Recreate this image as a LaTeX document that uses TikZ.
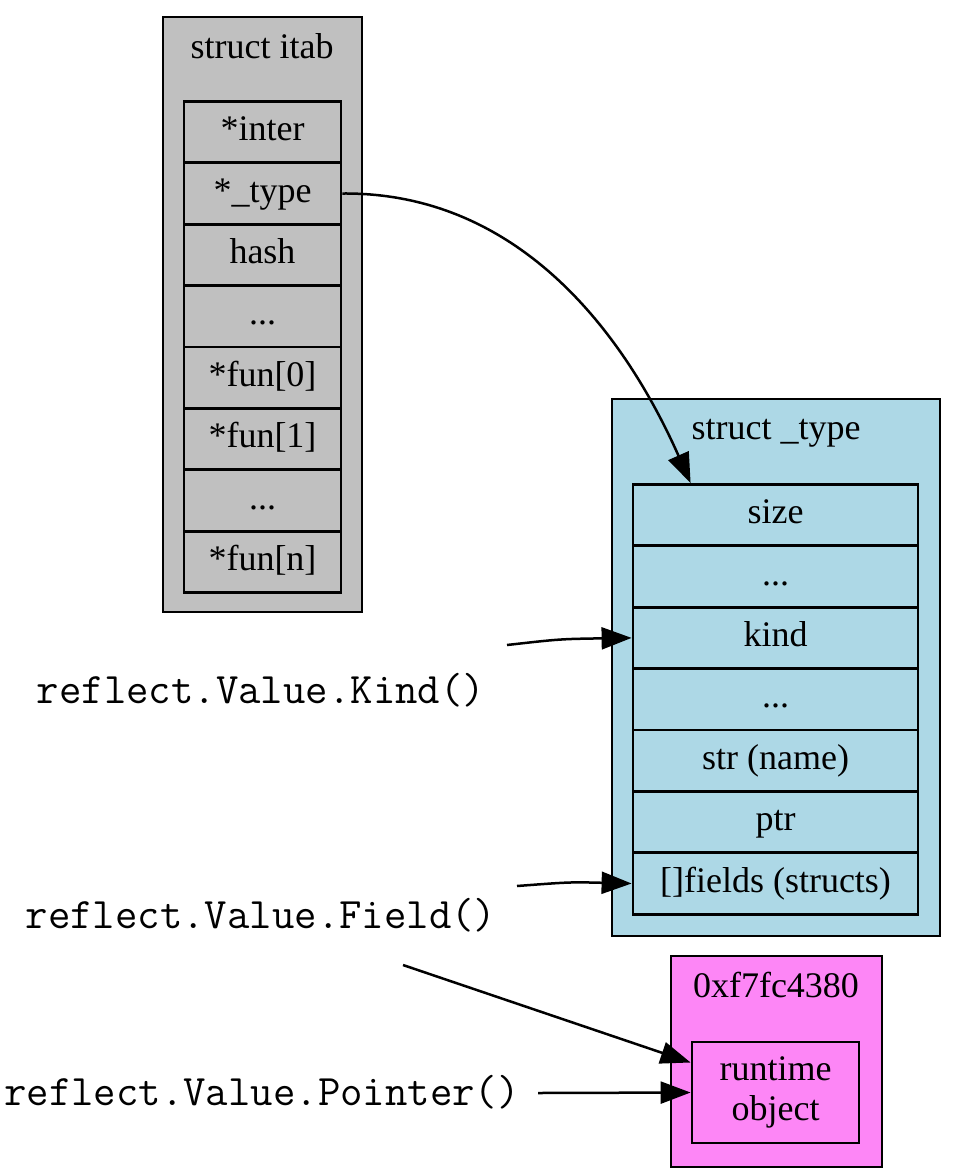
\documentclass[tikz,border=0pt]{standalone}
\usepackage{fontspec}
\setmainfont{Liberation Serif}
\usetikzlibrary{arrows.meta,positioning}
\definecolor{itabGri}{HTML}{C0C0C0}
\definecolor{tipMavi}{HTML}{ADD8E6}
\definecolor{nesnePembe}{HTML}{FD86F6}
\newcommand{\ucNokta}{...}

\begin{document}
\begin{tikzpicture}[x=1pt,y=-1pt,
  every node/.style={font=\fontsize{36}{38}\selectfont},
  kume/.style={draw,line width=2.8pt},
  baslik/.style={text height=25pt,text depth=8pt},
  alan/.style={draw,line width=2.8pt,minimum height=61.4pt,inner sep=0pt,anchor=north,
    text height=25pt,text depth=8pt},
  cagri/.style={font=\ttfamily\fontsize{43.5}{44}\selectfont},
  ok/.style={line width=2.5pt,-{Triangle[length=30pt,width=22pt]}}]
\useasboundingbox (0,0) rectangle (956,1176);
% struct itab
\draw[kume,fill=itabGri] (163,17) rectangle (362,612);
\node[baslik] (itabBaslik) at (262,50) {struct itab};
\foreach \ad [count=\i] in {*inter,*\_type,hash,\ucNokta,{*fun[0]},{*fun[1]},\ucNokta,{*fun[n]}}
  \node[alan,minimum width=157pt] (itab\i) at (262.5,{100+61.4*(\i-1)}) {\ad};
% struct _type
\draw[kume,fill=tipMavi] (612,399) rectangle (940,936);
\node[baslik] (tipBaslik) at (776,431) {struct \_type};
\foreach \ad [count=\i] in {size,\ucNokta,kind,\ucNokta,str (name),ptr,{[]fields (structs)}}
  \node[alan,minimum width=285pt] (tip\i) at (775.5,{483+61.4*(\i-1)}) {\ad};
% runtime object
\draw[kume,fill=nesnePembe] (671,956) rectangle (882,1167);
\node[baslik] (nesneBaslik) at (776,989) {0xf7fc4380};
\node[draw,line width=2.8pt,minimum width=167pt,minimum height=101pt,inner sep=0pt,align=center]
  (nesne) at (775.5,1092.5) {runtime\\[2pt]object};
% reflect calls
\node[cagri] (kindCagri) at (261,690) {reflect.Value.Kind()};
\node[cagri] (fieldCagri) at (261,915) {reflect.Value.Field()};
\node[cagri] (pointerCagri) at (262,1092) {reflect.Value.Pointer()};
\coordinate (kindUc) at (507,645);
\coordinate (fieldUc) at (517,886);
\coordinate (fieldUc2) at (403,965);
\coordinate (pointerUc) at (538,1093);
% arrows
\draw[ok] (itab2.east) .. controls (520,192) and (625,335) .. ([xshift=59pt]tip1.north west);
\draw[ok] (kindUc) .. controls (560,639) .. (tip3.west);
\draw[ok] (fieldUc) .. controls (570,882) .. (tip7.west);
\draw[ok] (fieldUc2) -- ([yshift=30pt]nesne.west);
\draw[ok] (pointerUc) -- (nesne.west);
\end{tikzpicture}
\end{document}
